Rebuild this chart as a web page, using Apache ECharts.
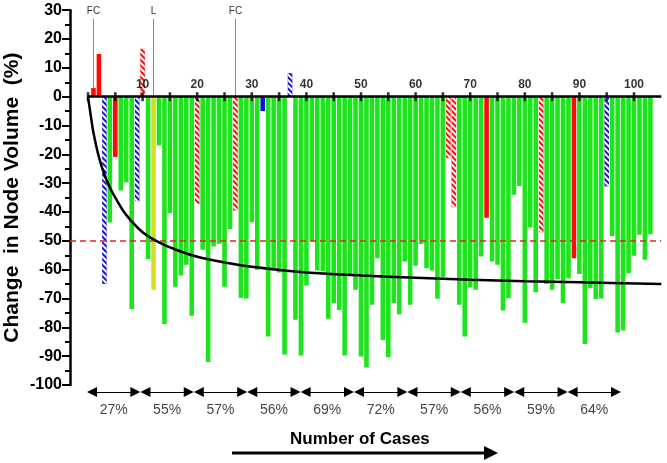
<!DOCTYPE html>
<html><head><meta charset="utf-8">
<script src="https://cdn.jsdelivr.net/npm/echarts@6/dist/echarts.min.js"></script>
<style>html,body{margin:0;padding:0;background:#fff}#c{width:667px;height:463px}</style>
</head><body><div id="c"></div>
<script>
// % change in node volume for cases 1..103
const caseChange = [
  3, 14.8, -65, -43.6, -20.9, -32.5, -29.7, -73.6, -36.2, 16.6,
  -56.3, -67, -16.9, -78.8, -40.4, -65.9, -62, -58.3, -76, -37.2,
  -53.1, -92, -52, -51, -65.9, -45.9, -39.5, -69.7, -70, -43.5,
  -60, -5, -83.2, -60, -61, -89.4, 8.2, -77.4, -89.8, -65.5,
  -50.2, -60.3, -60.5, -77, -71.6, -74, -89.8, -62, -67, -90.1,
  -93.9, -72.2, -56, -84.4, -90.4, -71.6, -75.5, -57.2, -72.2, -58.6,
  -51.1, -59.5, -60.3, -70.1, -62.6, -21.3, -38.3, -72.2, -83.2, -66.2,
  -67, -55.4, -42, -57.2, -58.3, -74.2, -69.9, -34, -31, -78.4,
  -45.4, -67.8, -47, -65, -67, -63.2, -71.6, -63, -56, -61.5,
  -85.8, -66.4, -70.2, -70, -31.1, -48.3, -81.8, -81.1, -61.2, -55.2,
  -47.9, -56.6, -47.7
];
// G green, R red, RH red hatched, B blue, BH blue hatched, Y yellow
const caseType = [
  'R','R','BH','G','R','G','G','G','BH','RH',
  'G','Y','G','G','G','G','G','G','G','RH',
  'G','G','G','G','G','G','RH','G','G','G',
  'G','B','G','G','G','G','BH','G','G','G',
  'G','G','G','G','G','G','G','G','G','G',
  'G','G','G','G','G','G','G','G','G','G',
  'G','G','G','G','G','RH','RH','G','G','G',
  'G','G','R','G','G','G','G','G','G','G',
  'G','G','RH','G','G','G','G','G','R','G',
  'G','G','G','G','BH','G','G','G','G','G',
  'G','G','G'
];
// fitted curve
const fitCurve = [
  [0,0],[0.5,-6.5],[1,-12.5],[2,-21],[3,-27],[4,-31.5],[5,-35],[7,-41],[10,-47],
  [13,-50.5],[16,-53],[20,-55.5],[25,-57.5],[30,-59],[40,-61],[50,-62],
  [60,-62.8],[70,-63.5],[80,-64],[90,-64.4],[105,-65]
];
const xTickValues = [0,5,10,15,20,25,30,35,40,45,50,55,60,65,70,75,80,85,90,95,100];
const xLabelValues = [10,20,30,40,50,60,70,80,90,100];
const xAxisExtent = [0, 105];
const thresholdValue = -50;
const annotations = [
  {text:'FC', caseNo:1, from:3},
  {text:'L', caseNo:12, from:0},
  {text:'FC', caseNo:27, from:0}
];
const annotationTop = 27;
const groupPercents = ['27%','55%','57%','56%','69%','72%','57%','56%','59%','64%'];

const FONT = 'Liberation Sans, Arial, sans-serif';
const GREEN = '#1ee41e', RED = '#ff0a0a', BLUE = '#1414d2', YEL = '#d6dc1e';
const hatch = {symbol:'rect', color:'#ffffff', dashArrayX:[1,0], dashArrayY:[2,1.6], rotation:Math.PI/4, symbolSize:1};
const styleOf = {
  G:{color:GREEN}, R:{color:RED}, B:{color:BLUE}, Y:{color:YEL},
  RH:{color:RED, decal:hatch}, BH:{color:BLUE, decal:hatch}
};
const arrowInset = 0.094;

const chart = echarts.init(document.getElementById('c'), null, {renderer:'canvas'});
chart.setOption({
  animation:false,
  backgroundColor:'#fff',
  grid:[
    {left:70, right:5.7, top:10.2, bottom:78, outerBoundsMode:'none', containLabel:false},
    {left:87, right:46, top:382, height:20, outerBoundsMode:'none', containLabel:false}
  ],
  xAxis:[
    {type:'value', gridIndex:0, min:-3.3, max:105, show:false},
    {type:'value', gridIndex:1, min:0, max:10, show:false}
  ],
  yAxis:[
    {type:'value', gridIndex:0, min:-100, max:30, interval:10,
     name:'Change  in Node Volume  (%)', nameLocation:'middle', nameGap:47, nameMoveOverlap:false,
     nameTextStyle:{fontSize:21, fontWeight:'bold', color:'#000', fontFamily:FONT},
     axisLine:{show:true, onZero:false, lineStyle:{color:'#000', width:2.5}},
     axisTick:{show:true, length:8, lineStyle:{color:'#000', width:2}},
     minorTick:{show:true, splitNumber:2, length:5, lineStyle:{color:'#000', width:2}},
     splitLine:{show:false},
     axisLabel:{fontSize:16, fontWeight:'bold', color:'#000', margin:8, fontFamily:FONT}},
    {type:'value', gridIndex:1, min:-1, max:1, show:false}
  ],
  series:[
    {type:'bar', xAxisIndex:0, yAxisIndex:0, barWidth:4.6, z:2,
     data: caseChange.map((v,i)=>({value:[i+1, v], itemStyle:styleOf[caseType[i]]})),
     markLine:{silent:true, symbol:['none','none'], z:4,
       data:[
         {yAxis:thresholdValue, lineStyle:{color:'#dd2a22', type:[6,4], width:1.5}, label:{show:false}},
         ...annotations.map(a=>[
           {coord:[a.caseNo, a.from], lineStyle:{color:'#8a8a8a', width:1, type:'solid'},
            label:{show:true, formatter:a.text, position:'end', distance:3, fontSize:10, color:'#333', fontFamily:FONT}},
           {coord:[a.caseNo, annotationTop]}
         ])
       ]}
    },
    {type:'line', xAxisIndex:0, yAxisIndex:0, data:fitCurve, smooth:0.35, symbol:'none', z:5,
     lineStyle:{color:'#000', width:2.5}},
    {type:'scatter', xAxisIndex:0, yAxisIndex:0, z:6, symbol:'rect', symbolSize:[2.5,9],
     itemStyle:{color:'#000'}, data:xTickValues.map(v=>[v,0]),
     markLine:{silent:true, symbol:['none','none'], z:6, label:{show:false},
       lineStyle:{color:'#000', width:2.5, type:'solid'},
       data:[[{coord:[xAxisExtent[0],0]},{coord:[xAxisExtent[1],0]}]]}
    },
    {type:'scatter', xAxisIndex:0, yAxisIndex:0, z:7, symbolSize:1, itemStyle:{color:'rgba(0,0,0,0)'},
     data:xLabelValues.map(v=>[v,0]),
     label:{show:true, position:'top', distance:6, formatter:(p)=>String(p.value[0]),
       fontSize:12, fontWeight:'bold', color:'#000', fontFamily:FONT}},
    {type:'scatter', xAxisIndex:1, yAxisIndex:1, symbolSize:1, itemStyle:{color:'rgba(0,0,0,0)'},
     data: groupPercents.map((p,i)=>[i+0.5, 0]),
     label:{show:true, position:'bottom', distance:11, formatter:(p)=>groupPercents[p.dataIndex],
       fontSize:14, color:'#111', fontFamily:FONT},
     markLine:{silent:true, symbol:['triangle','triangle'], symbolSize:[10,10],
       label:{show:false}, lineStyle:{color:'#000', width:1.2, type:'solid'},
       data: groupPercents.map((p,i)=>[{coord:[i+arrowInset,0]},{coord:[i+1-arrowInset,0]}])}
    }
  ],
  graphic:[
    {type:'text', left:290, top:431, style:{text:'Number of Cases', font:'bold 17px '+FONT, fill:'#000'}},
    {type:'line', shape:{x1:232, y1:453, x2:487, y2:453}, style:{stroke:'#000', lineWidth:3}},
    {type:'polygon', shape:{points:[[484,446],[498,453],[484,460]]}, style:{fill:'#000'}}
  ]
});
</script></body></html>
